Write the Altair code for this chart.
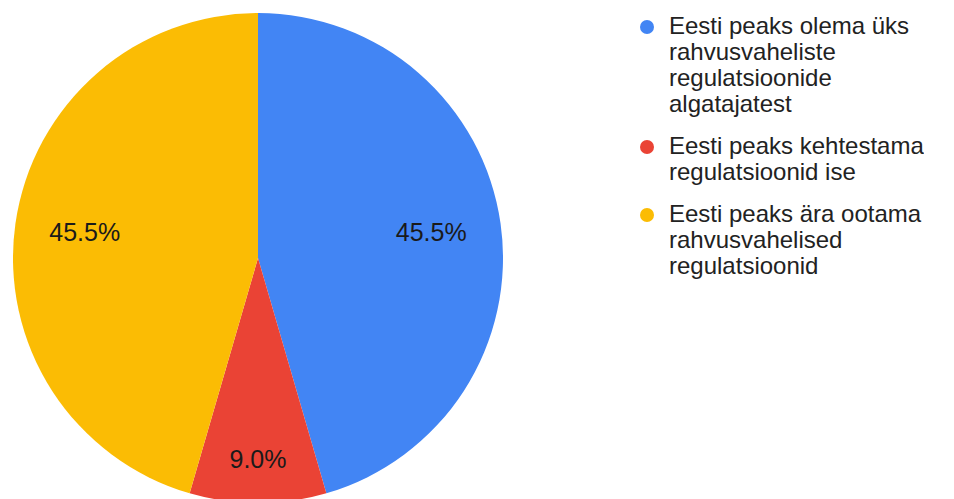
import json
import altair as alt
import pandas as pd

categories = [
    "Eesti peaks olema üks rahvusvaheliste regulatsioonide algatajatest",
    "Eesti peaks kehtestama regulatsioonid ise",
    "Eesti peaks ära ootama rahvusvahelised regulatsioonid",
]
values = [45.5, 9.0, 45.5]
colors = ["#4285F4", "#EA4335", "#FBBC04"]
legend_lines = [
    ["Eesti peaks olema üks", "rahvusvaheliste", "regulatsioonide", "algatajatest"],
    ["Eesti peaks kehtestama", "regulatsioonid ise"],
    ["Eesti peaks ära ootama", "rahvusvahelised", "regulatsioonid"],
]

df = pd.DataFrame({"category": categories, "value": values, "idx": list(range(len(values)))})

label_expr = ""
for c, lines in zip(categories, legend_lines):
    label_expr += f"datum.label === {json.dumps(c, ensure_ascii=False)} ? {json.dumps(lines, ensure_ascii=False)} : "
label_expr += "datum.label"

FONT = "Liberation Sans"

pie = alt.Chart(df).mark_arc(outerRadius=245, stroke=None).encode(
    theta=alt.Theta("value:Q", stack=True),
    order=alt.Order("idx:Q"),
    color=alt.Color(
        "category:N",
        scale=alt.Scale(domain=categories, range=colors),
        legend=alt.Legend(
            title=None,
            orient="none",
            legendX=622,
            legendY=2,
            labelExpr=label_expr,
            symbolType="circle",
            symbolSize=196,
            symbolStrokeWidth=0,
            labelFontSize=24,
            labelFont=FONT,
            labelColor="#222222",
            labelOffset=10,
            labelLimit=500,
            rowPadding=18,
        ),
    ),
)

text = (
    alt.Chart(df)
    .transform_joinaggregate(total="sum(value)")
    .transform_window(cum="sum(value)", sort=[alt.SortField("idx")])
    .transform_calculate(
        mid="(datum.cum - datum.value / 2) / datum.total * 2 * PI",
        lbl="format(datum.value, '.1f') + '%'",
        lr="datum.value < 20 ? 202 : 175",
    )
    .mark_text(font=FONT, fontSize=25, color="#1a1a1a")
    .encode(
        theta=alt.Theta("mid:Q", scale=None),
        radius=alt.Radius("lr:Q", scale=None),
        text="lbl:N",
    )
)

chart = (
    alt.layer(pie, text)
    .properties(width=490, height=490, padding={"left": 5, "top": 5, "right": 0, "bottom": 0})
    .configure_view(stroke=None)
)

chart.save("out.html", embed_options={"renderer": "svg", "actions": False})
